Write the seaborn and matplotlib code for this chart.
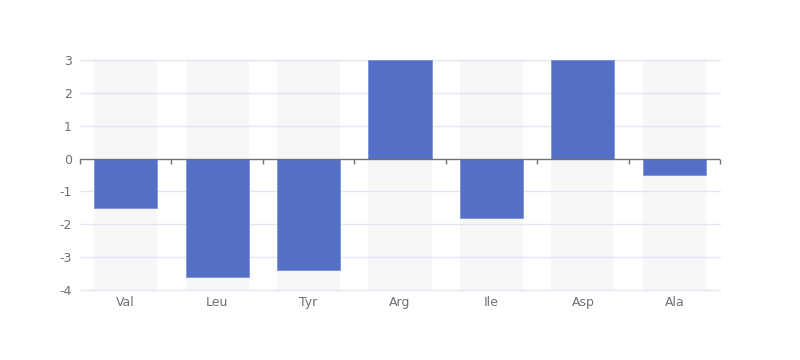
import matplotlib
matplotlib.use("Agg")
import matplotlib.pyplot as plt
import seaborn as sns
import numpy as np
import pandas as pd

# chart data
categories = ['Val', 'Leu', 'Tyr', 'Arg', 'Ile', 'Asp', 'Ala']
values = [-1.5, -3.6, -3.4, 3, -1.8, 3, -0.5]
y_min, y_max = -4, 3
y_ticks = [-4, -3, -2, -1, 0, 1, 2, 3]

bar_color = '#5470c6'
bg_color = '#f7f7f7'
grid_color = '#e0e6f1'
axis_color = '#6e7079'

sns.set_style('white')
plt.rcParams['font.family'] = ['DejaVu Sans']
plt.rcParams['axes.unicode_minus'] = False

df = pd.DataFrame({'cat': categories, 'val': values})
bg_top = pd.DataFrame({'cat': categories, 'val': [y_max] * len(categories)})
bg_bot = pd.DataFrame({'cat': categories, 'val': [y_min] * len(categories)})

fig = plt.figure(figsize=(8, 3.6), dpi=100)
ax = fig.add_axes([0.1, 70 / 360, 0.8, 230 / 360])

# background bars
for bg in (bg_top, bg_bot):
    sns.barplot(data=bg, x='cat', y='val', color=bg_color, width=0.69,
                saturation=1, linewidth=0, ax=ax, zorder=1)
# value bars
sns.barplot(data=df, x='cat', y='val', color=bar_color, width=0.69,
            saturation=1, linewidth=0.6, edgecolor='#7d93d6', ax=ax, zorder=3)

ax.set_xlim(-0.5, len(categories) - 0.5)
ax.set_ylim(y_min, y_max)
ax.set_yticks(y_ticks)
ax.set_xlabel('')
ax.set_ylabel('')

# horizontal grid
for t in y_ticks:
    if t != 0:
        ax.axhline(t, color=grid_color, lw=1, zorder=2, clip_on=False)

# zero axis with boundary ticks
ax.axhline(0, color=axis_color, lw=1, zorder=4)
ax.vlines(np.arange(len(categories) + 1) - 0.5, 0, -0.15,
          color=axis_color, lw=1, zorder=4, clip_on=False)

for s in ax.spines.values():
    s.set_visible(False)

ax.tick_params(axis='x', length=0, pad=4, labelsize=9, labelcolor=axis_color)
ax.tick_params(axis='y', length=0, pad=6, labelsize=9, labelcolor=axis_color)

fig.savefig('out.png', dpi=100)
